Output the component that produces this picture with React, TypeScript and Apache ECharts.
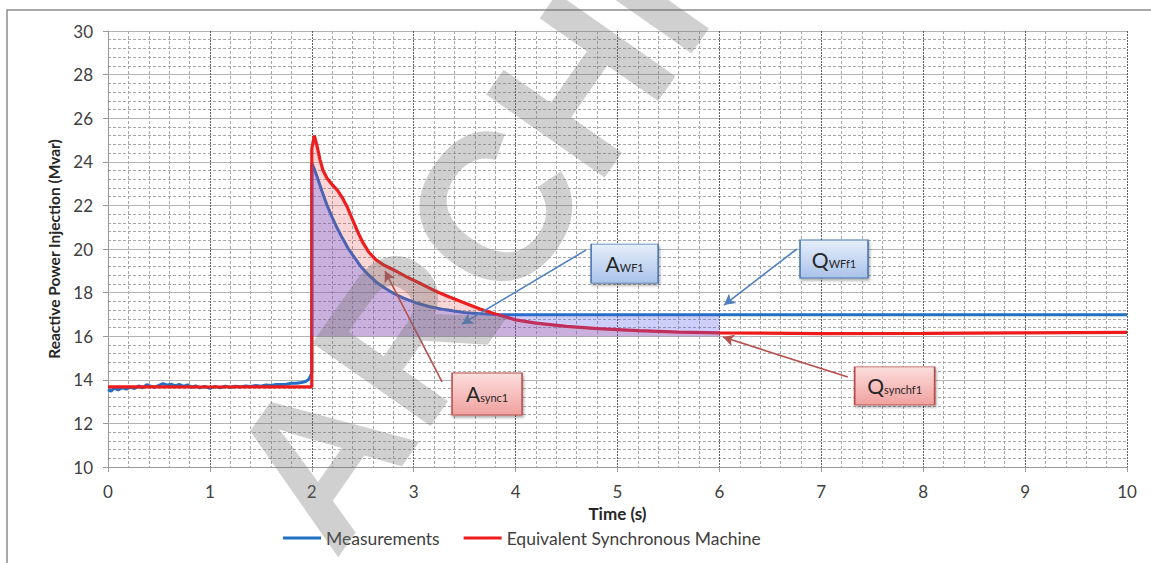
import React, { useEffect, useRef } from "react";
import * as echarts from "echarts";

// ---- data ----
const measurements: [number, number][] = [
  [0.0, 13.55], [0.03, 13.48], [0.06, 13.62], [0.1, 13.54], [0.14, 13.64], [0.18, 13.57],
  [0.22, 13.66], [0.26, 13.6], [0.3, 13.72], [0.34, 13.63], [0.38, 13.78], [0.42, 13.7],
  [0.46, 13.66], [0.5, 13.74], [0.54, 13.83], [0.58, 13.75], [0.62, 13.8], [0.66, 13.72],
  [0.7, 13.79], [0.74, 13.7], [0.78, 13.77], [0.82, 13.66], [0.86, 13.72], [0.9, 13.63],
  [0.95, 13.7], [1.0, 13.61], [1.05, 13.7], [1.1, 13.63], [1.15, 13.71], [1.2, 13.65],
  [1.25, 13.7], [1.3, 13.67], [1.35, 13.72], [1.4, 13.69], [1.45, 13.74], [1.5, 13.71],
  [1.55, 13.76], [1.6, 13.74], [1.65, 13.78], [1.7, 13.79], [1.75, 13.8], [1.8, 13.84],
  [1.85, 13.84], [1.9, 13.88], [1.94, 13.92], [1.97, 14.02], [2.0, 14.3],
  [2.0, 23.95], [2.03, 23.6], [2.06, 23.2], [2.1, 22.65], [2.15, 22.0], [2.2, 21.45],
  [2.25, 20.95], [2.3, 20.5], [2.36, 20.0], [2.42, 19.6], [2.48, 19.2], [2.56, 18.8],
  [2.64, 18.45], [2.72, 18.2], [2.8, 17.97], [2.9, 17.75], [3.03, 17.52], [3.15, 17.36],
  [3.3, 17.22], [3.49, 17.09], [3.65, 17.03], [3.8, 17.0], [4.0, 16.98], [5.0, 16.98],
  [6.0, 16.98], [7.0, 16.98], [8.0, 16.98], [9.0, 16.98], [10.0, 16.98],
];

const synchronousMachine: [number, number][] = [
  [0.0, 13.68], [0.5, 13.68], [1.0, 13.67], [1.5, 13.68], [2.0, 13.68],
  [2.0, 24.6], [2.025, 25.2], [2.05, 24.75], [2.08, 24.1], [2.11, 23.6], [2.15, 23.25],
  [2.2, 22.95], [2.25, 22.7], [2.3, 22.35], [2.35, 21.9], [2.4, 21.35], [2.45, 20.8],
  [2.5, 20.3], [2.56, 19.85], [2.63, 19.5], [2.7, 19.28], [2.8, 19.05], [2.93, 18.72],
  [3.05, 18.45], [3.2, 18.1], [3.35, 17.8], [3.5, 17.52], [3.65, 17.25], [3.8, 17.02],
  [4.0, 16.75], [4.2, 16.6], [4.5, 16.45], [4.8, 16.35], [5.2, 16.26], [5.6, 16.19],
  [6.0, 16.15], [7.0, 16.12], [8.0, 16.13], [9.0, 16.15], [10.0, 16.18],
];

const seriesNames = ["Measurements", "Equivalent Synchronous Machine"];
const fillBase = 16; // Mvar, lower edge of the shaded areas
const fillStart = 2; // s
const fillEnd = 6; // s

const xAxisRange = [0, 10];
const yAxisRange = [10, 30];

// annotation boxes (centre, in data units) and their arrows (from -> to, data units)
const annotationMain = ["A", "Q", "Q", "A"];
const annotationSub = ["WF1", "WFf1", "synchf1", "sync1"];
const annotationKind = ["blue", "blue", "red", "red"];
const annotationCentre: [number, number][] = [[5.07, 19.33], [7.125, 19.54], [7.72, 13.72], [3.72, 13.35]];
const arrowFrom: [number, number][] = [[4.69, 19.95], [6.76, 20.0], [7.26, 14.13], [3.278, 13.9]];
const arrowTo: [number, number][] = [[3.474, 16.56], [6.045, 17.43], [6.035, 15.96], [2.718, 18.99]];

const watermarkText = "ARCHIVED";

const FONT = "Lato, 'Open Sans', sans-serif";

export default function App() {
  const ref = useRef<HTMLDivElement>(null);

  useEffect(() => {
    if (!ref.current) return;
    const chart = echarts.init(ref.current, undefined, { renderer: "svg" });

    const inWindow = (d: [number, number][]) =>
      d.filter(([x, y]) => x >= fillStart && x <= fillEnd && y >= fillBase);

    const boxSizes: Record<string, number[]> = {
      WF1: [67, 39], WFf1: [68, 38], synchf1: [80, 38], sync1: [70, 42],
    };

    const boxStyle = (kind: string) =>
      kind === "blue"
        ? {
            color: new echarts.graphic.LinearGradient(0, 0, 0, 1, [
              { offset: 0, color: "#e6eefa" },
              { offset: 1, color: "#a9c3ea" },
            ]),
            borderColor: "#4b77b0",
            borderWidth: 1.2,
            shadowBlur: 3,
            shadowOffsetX: 1,
            shadowOffsetY: 2,
            shadowColor: "rgba(0,0,0,0.35)",
          }
        : {
            color: new echarts.graphic.LinearGradient(0, 0, 0, 1, [
              { offset: 0, color: "#fcdedd" },
              { offset: 1, color: "#f0a19f" },
            ]),
            borderColor: "#b64f4c",
            borderWidth: 1.2,
            shadowBlur: 3,
            shadowOffsetX: 1,
            shadowOffsetY: 2,
            shadowColor: "rgba(0,0,0,0.35)",
          };

    const markPoints = annotationMain.map((m, i) => ({
      coord: annotationCentre[i],
      symbol: "rect",
      symbolSize: boxSizes[annotationSub[i]],
      itemStyle: boxStyle(annotationKind[i]),
      label: {
        show: true,
        position: "inside",
        formatter: `{a|${m}}{b|${annotationSub[i]}}`,
        rich: {
          a: { fontSize: 21, color: "#262626", fontFamily: FONT, verticalAlign: "bottom" },
          b: { fontSize: 11, color: "#262626", fontFamily: FONT, verticalAlign: "bottom", padding: [0, 0, 1, 0] },
        },
      },
    }));

    const markLines = annotationMain.map((_, i) => [
      {
        coord: arrowFrom[i],
        lineStyle: {
          color: annotationKind[i] === "blue" ? "#4f7fc0" : "#b5504e",
          width: 1.6,
          type: "solid",
        },
      },
      { coord: arrowTo[i] },
    ]);

    const gridMinor = { color: "#a8a8a8", width: 1, type: [3, 2] };

    chart.setOption({
      animation: false,
      backgroundColor: "#ffffff",
      textStyle: { fontFamily: FONT },
      graphic: [
        {
          type: "rect",
          shape: { x: 7, y: 10, width: 1400, height: 800 },
          style: { fill: "none", stroke: "#8c8c8c", lineWidth: 1.5 },
          silent: true,
          z: -10,
        },
        {
          type: "text",
          x: 276,
          y: 520,
          rotation: (55 * Math.PI) / 180,
          silent: true,
          z: 100,
          style: {
            text: watermarkText,
            fill: "rgba(110,110,110,0.32)",
            font: "bold 210px 'Liberation Sans', Arial, sans-serif",
            textAlign: "left",
            textVerticalAlign: "middle",
          },
        },
      ],
      grid: { left: 108, top: 31, right: 24, bottom: 96, containLabel: false },
      legend: {
        data: seriesNames,
        left: 283,
        top: 529,
        padding: 0,
        icon: "rect",
        itemWidth: 38,
        itemHeight: 3,
        itemGap: 24,
        textStyle: { fontSize: 17.5, color: "#404040", fontFamily: FONT },
      },
      xAxis: {
        type: "value",
        min: xAxisRange[0],
        max: xAxisRange[1],
        interval: 1,
        name: "Time (s)",
        nameLocation: "middle",
        nameGap: 35,
        nameTextStyle: { fontSize: 17, fontWeight: "bold", color: "#262626", fontFamily: FONT },
        axisLine: { show: true, lineStyle: { color: "#9a9a9a", width: 1 } },
        axisTick: { show: true, length: 5, lineStyle: { color: "#9a9a9a" } },
        axisLabel: { fontSize: 17, color: "#404040", margin: 16, fontFamily: FONT },
        splitLine: { show: true, lineStyle: { color: "#5e5e5e", width: 1, type: [2, 1] } },
        minorTick: { show: false, splitNumber: 5 },
        minorSplitLine: { show: true, lineStyle: gridMinor },
      },
      yAxis: {
        type: "value",
        min: yAxisRange[0],
        max: yAxisRange[1],
        interval: 2,
        name: "Reactive Power Injection (Mvar)",
        nameLocation: "middle",
        nameGap: 45,
        nameTextStyle: { fontSize: 15.5, fontWeight: "bold", color: "#262626", fontFamily: FONT },
        axisLine: { show: true, lineStyle: { color: "#9a9a9a", width: 1 } },
        axisTick: { show: true, length: 5, lineStyle: { color: "#9a9a9a" } },
        axisLabel: { fontSize: 17, color: "#404040", margin: 15, fontFamily: FONT },
        splitLine: { show: true, lineStyle: { color: "#b4b4b4", width: 1, type: "solid" } },
        minorTick: { show: false, splitNumber: 5 },
        minorSplitLine: { show: true, lineStyle: gridMinor },
      },
      series: [
        {
          name: seriesNames[0],
          type: "line",
          data: measurements,
          showSymbol: false,
          lineStyle: { color: "#2270c4", width: 3 },
          itemStyle: { color: "#2270c4" },
          z: 2,
        },
        {
          name: seriesNames[1],
          type: "line",
          data: synchronousMachine,
          showSymbol: false,
          lineStyle: { color: "#ee1b1b", width: 3.2 },
          itemStyle: { color: "#ee1b1b" },
          z: 2,
        },
        {
          name: "fill-synchronous",
          type: "line",
          data: inWindow(synchronousMachine),
          showSymbol: false,
          lineStyle: { width: 0 },
          areaStyle: { color: "rgba(232,60,60,0.30)", origin: fillBase },
          z: 3,
        },
        {
          name: "fill-measurements",
          type: "line",
          data: inWindow(measurements),
          showSymbol: false,
          lineStyle: { width: 0 },
          areaStyle: { color: "rgba(90,90,238,0.42)", origin: fillBase },
          z: 4,
        },
        {
          name: "annotations",
          type: "line",
          data: [],
          z: 6,
          markLine: {
            silent: true,
            symbol: ["none", "arrow"],
            symbolSize: [9, 11],
            label: { show: false },
            data: markLines,
          },
          markPoint: {
            silent: true,
            data: markPoints,
          },
        },
      ],
    });

    return () => chart.dispose();
  }, []);

  return (
    <div
      ref={ref}
      style={{ position: "fixed", left: 0, top: 0, width: 1151, height: 563, background: "#fff" }}
    />
  );
}
